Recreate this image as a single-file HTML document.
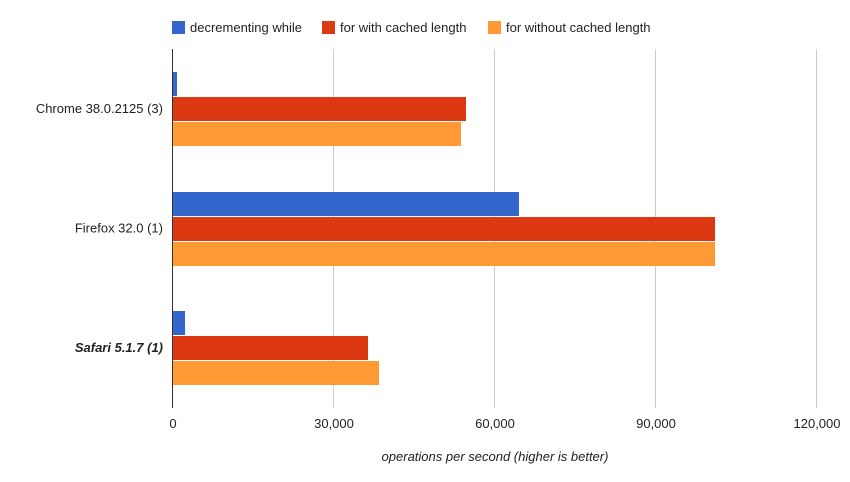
<!DOCTYPE html>
<html><head><meta charset="utf-8"><style>
body{margin:0;background:#fff;font-family:"Liberation Sans",Arial,sans-serif;}
svg text{font-family:"Liberation Sans",Arial,sans-serif;font-size:13px;fill:#222;}
</style></head><body>
<svg id="chart" width="850" height="477">
<g>
 <g><rect x="172" y="21" width="13" height="13" fill="#3366cc"/><text x="190" y="32">decrementing while</text></g>
 <g><rect x="322" y="21" width="13" height="13" fill="#dc3912"/><text x="340" y="32">for with cached length</text></g>
 <g><rect x="488" y="21" width="13" height="13" fill="#ff9933"/><text x="506" y="32">for without cached length</text></g>
</g>
<g id="grid"></g><g id="bars"></g><g id="labels"></g>
<text x="495" y="461" text-anchor="middle" font-style="italic">operations per second (higher is better)</text>
</svg>
<script>
const categories=["Chrome 38.0.2125 (3)","Firefox 32.0 (1)","Safari 5.1.7 (1)"];
const decrementingWhile=[750,64470,2240];
const forWithCached=[54600,101000,36340];
const forWithoutCached=[53660,101000,38390];
const ticks=[0,30000,60000,90000,120000];
const tickLabels=["0","30,000","60,000","90,000","120,000"];
const series=[decrementingWhile,forWithCached,forWithoutCached];
const colors=["#3366cc","#dc3912","#ff9933"];
const NS="http://www.w3.org/2000/svg";
const x0=173,x1=817,plotTop=49,plotBot=408;
const xs=v=>x0+v/120000*(x1-x0);
const bandH=(plotBot-plotTop)/categories.length;
const grid=document.getElementById('grid'),bars=document.getElementById('bars'),labels=document.getElementById('labels');
function mk(tag,attrs,parent){const e=document.createElementNS(NS,tag);for(const k in attrs)e.setAttribute(k,attrs[k]);parent.appendChild(e);return e;}
ticks.forEach((t,i)=>{
 const x=Math.round(xs(t))-0.5;
 const l=mk('line',{x1:x,x2:x,y1:plotTop,y2:plotBot,stroke:i==0?'#333':'#ccc','stroke-width':1},grid);
 
 
 const tx=mk('text',{x:xs(t),y:428,'text-anchor':'middle'},labels);
 tx.textContent=tickLabels[i];
 
 
});
categories.forEach((c,ci)=>{
 const cy=plotTop+bandH*(ci+0.5);
 const t=mk('text',{x:163,y:cy+4,'text-anchor':'end'},labels);
 t.textContent=c;
 if(ci==2){t.setAttribute('font-weight','bold');t.setAttribute('font-style','italic');}
 
 
 series.forEach((s,si)=>{
  const y=Math.round(cy-37+si*25);
  const r=mk('rect',{x:x0,y:y,width:Math.max(0,xs(s[ci])-x0),height:24,fill:colors[si]},bars);
  
  
 });
});
</script>
</body></html>
